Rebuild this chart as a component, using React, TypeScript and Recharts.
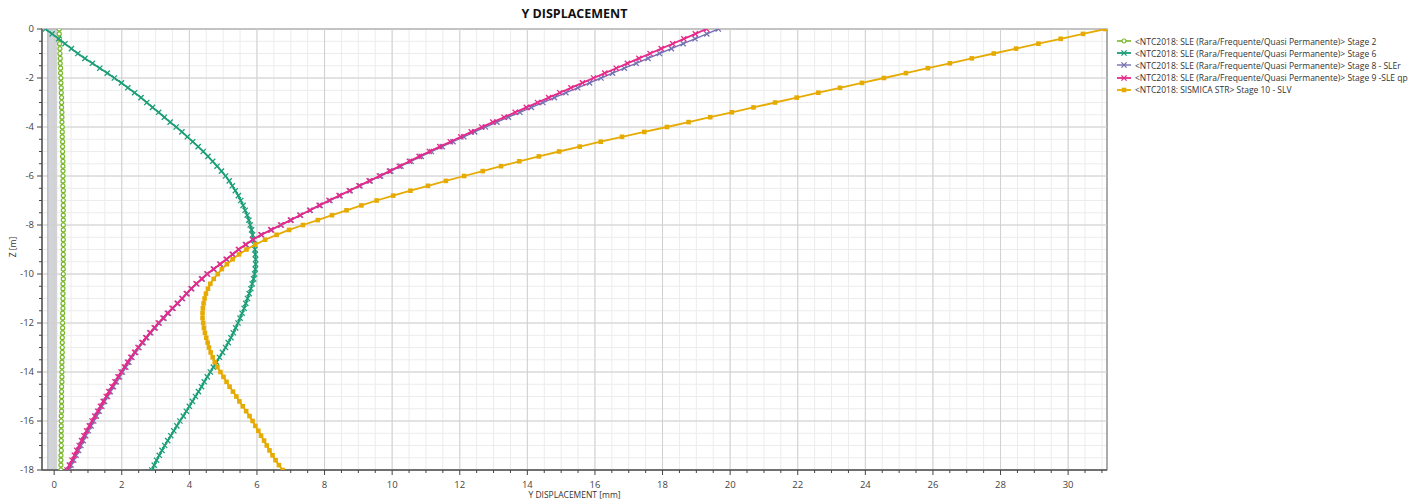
import React from 'react';
import {
  ScatterChart, Scatter, XAxis, YAxis, CartesianGrid, ReferenceLine, ReferenceArea,
} from 'recharts';

// depth of each computed node along the wall [m]
const depth = [
  0, -0.2, -0.4, -0.6, -0.8, -1, -1.2, -1.4, -1.6, -1.8,
  -2, -2.2, -2.4, -2.6, -2.8, -3, -3.2, -3.4, -3.6, -3.8,
  -4, -4.2, -4.4, -4.6, -4.8, -5, -5.2, -5.4, -5.6, -5.8,
  -6, -6.2, -6.4, -6.6, -6.8, -7, -7.2, -7.4, -7.6, -7.8,
  -8, -8.2, -8.4, -8.6, -8.8, -9, -9.2, -9.4, -9.6, -9.8,
  -10, -10.2, -10.4, -10.6, -10.8, -11, -11.2, -11.4, -11.6, -11.8,
  -12, -12.2, -12.4, -12.6, -12.8, -13, -13.2, -13.4, -13.6, -13.8,
  -14, -14.2, -14.4, -14.6, -14.8, -15, -15.2, -15.4, -15.6, -15.8,
  -16, -16.2, -16.4, -16.6, -16.8, -17, -17.2, -17.4, -17.6, -17.8,
  -18,
];

// horizontal displacement per stage [mm]
const stage2 = [
  0.15, 0.15, 0.16, 0.16, 0.17, 0.17, 0.18, 0.18, 0.19, 0.19,
  0.20, 0.20, 0.21, 0.21, 0.22, 0.22, 0.22, 0.23, 0.23, 0.23,
  0.24, 0.24, 0.24, 0.25, 0.25, 0.25, 0.25, 0.26, 0.26, 0.26,
  0.26, 0.26, 0.26, 0.27, 0.27, 0.27, 0.27, 0.27, 0.27, 0.27,
  0.27, 0.27, 0.27, 0.27, 0.27, 0.27, 0.27, 0.27, 0.27, 0.27,
  0.27, 0.27, 0.26, 0.26, 0.26, 0.26, 0.26, 0.26, 0.25, 0.25,
  0.25, 0.25, 0.25, 0.24, 0.24, 0.24, 0.24, 0.24, 0.23, 0.23,
  0.23, 0.23, 0.23, 0.22, 0.22, 0.22, 0.22, 0.22, 0.22, 0.21,
  0.21, 0.21, 0.21, 0.21, 0.21, 0.21, 0.21, 0.20, 0.20, 0.20,
  0.20,
];

const stage6 = [
  -0.26, -0.06, 0.13, 0.32, 0.51, 0.70, 0.91, 1.13, 1.35, 1.57,
  1.78, 1.99, 2.18, 2.38, 2.57, 2.74, 2.91, 3.09, 3.26, 3.43,
  3.61, 3.78, 3.94, 4.10, 4.26, 4.41, 4.55, 4.69, 4.82, 4.95,
  5.07, 5.18, 5.27, 5.36, 5.45, 5.52, 5.59, 5.65, 5.71, 5.76,
  5.80, 5.84, 5.87, 5.90, 5.92, 5.94, 5.95, 5.96, 5.96, 5.95,
  5.93, 5.90, 5.86, 5.82, 5.77, 5.72, 5.67, 5.62, 5.56, 5.50,
  5.44, 5.37, 5.30, 5.23, 5.15, 5.07, 4.98, 4.89, 4.80, 4.71,
  4.62, 4.53, 4.44, 4.36, 4.27, 4.18, 4.09, 4.00, 3.91, 3.82,
  3.72, 3.63, 3.54, 3.45, 3.36, 3.27, 3.19, 3.11, 3.03, 2.96,
  2.89,
];

const stage8 = [
  19.65, 19.31, 18.96, 18.61, 18.26, 17.91, 17.57, 17.22, 16.87, 16.52,
  16.18, 15.84, 15.49, 15.14, 14.80, 14.46, 14.12, 13.78, 13.44, 13.10,
  12.76, 12.44, 12.12, 11.80, 11.48, 11.16, 10.86, 10.56, 10.26, 9.96,
  9.66, 9.35, 9.05, 8.76, 8.46, 8.16, 7.87, 7.58, 7.29, 7.01,
  6.72, 6.43, 6.14, 5.89, 5.68, 5.47, 5.29, 5.11, 4.92, 4.73,
  4.54, 4.38, 4.22, 4.07, 3.93, 3.80, 3.66, 3.52, 3.38, 3.25,
  3.11, 2.99, 2.86, 2.74, 2.63, 2.51, 2.41, 2.30, 2.21, 2.12,
  2.02, 1.93, 1.84, 1.75, 1.66, 1.58, 1.49, 1.41, 1.33, 1.25,
  1.17, 1.09, 1.01, 0.93, 0.86, 0.79, 0.72, 0.65, 0.58, 0.50,
  0.43,
];

const stage9 = [
  19.30, 18.97, 18.63, 18.30, 17.96, 17.63, 17.30, 16.96, 16.63, 16.29,
  15.96, 15.63, 15.29, 14.96, 14.63, 14.30, 13.97, 13.64, 13.31, 12.98,
  12.65, 12.34, 12.03, 11.72, 11.41, 11.10, 10.80, 10.51, 10.21, 9.92,
  9.62, 9.32, 9.02, 8.73, 8.43, 8.13, 7.84, 7.56, 7.27, 6.99,
  6.70, 6.41, 6.12, 5.87, 5.66, 5.45, 5.27, 5.09, 4.90, 4.71,
  4.52, 4.36, 4.20, 4.05, 3.91, 3.78, 3.64, 3.49, 3.35, 3.22,
  3.08, 2.96, 2.83, 2.71, 2.60, 2.48, 2.38, 2.27, 2.17, 2.08,
  1.98, 1.89, 1.80, 1.71, 1.62, 1.54, 1.45, 1.37, 1.29, 1.20,
  1.12, 1.04, 0.96, 0.88, 0.81, 0.74, 0.67, 0.60, 0.53, 0.45,
  0.38,
];

const stage10 = [
  31.10, 30.44, 29.78, 29.12, 28.46, 27.80, 27.15, 26.50, 25.85, 25.20,
  24.55, 23.90, 23.25, 22.61, 21.97, 21.33, 20.69, 20.05, 19.41, 18.77,
  18.13, 17.46, 16.80, 16.17, 15.55, 14.94, 14.34, 13.76, 13.22, 12.68,
  12.13, 11.59, 11.06, 10.54, 10.03, 9.54, 9.09, 8.65, 8.22, 7.80,
  7.36, 6.95, 6.58, 6.24, 5.95, 5.69, 5.47, 5.28, 5.11, 4.96,
  4.84, 4.72, 4.62, 4.55, 4.49, 4.45, 4.42, 4.40, 4.39, 4.39,
  4.41, 4.43, 4.46, 4.50, 4.54, 4.58, 4.63, 4.69, 4.75, 4.83,
  4.92, 5.01, 5.10, 5.19, 5.29, 5.39, 5.48, 5.58, 5.68, 5.78,
  5.87, 5.95, 6.04, 6.12, 6.21, 6.29, 6.37, 6.46, 6.55, 6.65,
  6.76,
];

const seriesNames = [
  '<NTC2018: SLE (Rara/Frequente/Quasi Permanente)> Stage 2',
  '<NTC2018: SLE (Rara/Frequente/Quasi Permanente)> Stage 6',
  '<NTC2018: SLE (Rara/Frequente/Quasi Permanente)> Stage 8 - SLEr',
  '<NTC2018: SLE (Rara/Frequente/Quasi Permanente)> Stage 9 -SLE qp',
  '<NTC2018: SISMICA STR> Stage 10 - SLV',
];

// wall section drawn behind the profiles [mm]
const wallBand = [-0.19, 0.09];

const xMajorTicks = [0, 2, 4, 6, 8, 10, 12, 14, 16, 18, 20, 22, 24, 26, 28, 30];
const zMajorTicks = [0, -2, -4, -6, -8, -10, -12, -14, -16, -18];

const X_MIN = -0.36;
const X_MAX = 31.15;
const Z_MIN = -18;
const Z_MAX = 0;

const xTicks = xMajorTicks.flatMap((v) => [v, v + 0.5, v + 1, v + 1.5]).filter((v) => v <= X_MAX);
const zTicks = zMajorTicks.flatMap((v) => [v, v - 0.5, v - 1, v - 1.5]).filter((v) => v >= Z_MIN);
const isMajor = (v: number) => Math.abs(v % 2) < 1e-6;

const toPoints = (values: number[]) => values.map((x, i) => ({ x, z: depth[i] }));

type MarkerKind = 'circle' | 'cross' | 'square';

const series: { name: string; values: number[]; color: string; marker: MarkerKind; width: number }[] = [
  { name: seriesNames[0], values: stage2, color: '#78b829', marker: 'circle', width: 1.6 },
  { name: seriesNames[1], values: stage6, color: '#1b9e77', marker: 'cross', width: 1.8 },
  { name: seriesNames[2], values: stage8, color: '#7570b3', marker: 'cross', width: 1.4 },
  { name: seriesNames[3], values: stage9, color: '#e7298a', marker: 'cross', width: 1.8 },
  { name: seriesNames[4], values: stage10, color: '#e6ab02', marker: 'square', width: 1.8 },
];

const FONT = '"Open Sans", "Noto Sans", sans-serif';

function Marker({ kind, color, cx, cy }: { kind: MarkerKind; color: string; cx: number; cy: number }) {
  if (kind === 'circle') {
    return <circle cx={cx} cy={cy} r={2} fill="#fff" stroke={color} strokeWidth={1.2} />;
  }
  if (kind === 'square') {
    return <rect x={cx - 2.3} y={cy - 2.3} width={4.6} height={4.6} fill={color} />;
  }
  const s = 2.6;
  return (
    <path
      d={`M${cx - s},${cy - s}L${cx + s},${cy + s}M${cx - s},${cy + s}L${cx + s},${cy - s}`}
      stroke={color}
      strokeWidth={1.3}
      fill="none"
    />
  );
}

const XTick = (props: any) => {
  const { x, y, payload } = props;
  const v = payload.value;
  const major = isMajor(v);
  return (
    <g>
      <line x1={x} y1={y} x2={x} y2={y + (major ? 5 : 3)} stroke="#444" />
      {major && (
        <text x={x} y={y + 17.5} textAnchor="middle" fontSize={9.5} fill="#444" fontFamily={FONT}>
          {v}
        </text>
      )}
    </g>
  );
};

const YTick = (props: any) => {
  const { x, y, payload } = props;
  const v = payload.value;
  const major = isMajor(v);
  return (
    <g>
      <line x1={x - (major ? 5 : 3)} y1={y} x2={x} y2={y} stroke="#444" />
      {major && (
        <text x={x - 8} y={y + 3.4} textAnchor="end" fontSize={9.5} fill="#444" fontFamily={FONT}>
          {v}
        </text>
      )}
    </g>
  );
};

function Legend() {
  return (
    <div style={{ position: 'absolute', left: 1116, top: 35, fontFamily: FONT, fontSize: 8.5, color: '#333' }}>
      {series.map((s) => (
        <div key={s.name} style={{ display: 'flex', alignItems: 'center', height: 12.2, whiteSpace: 'nowrap' }}>
          <svg width={16} height={10}>
            <line x1={1} y1={5} x2={15} y2={5} stroke={s.color} strokeWidth={s.width} />
            <Marker kind={s.marker} color={s.color} cx={8} cy={5} />
          </svg>
          <span style={{ marginLeft: 3 }}>{s.name}</span>
        </div>
      ))}
    </div>
  );
}

export default function App() {
  return (
    <div style={{ position: 'absolute', left: 0, top: 0, width: 1426, height: 504, background: '#fff', fontFamily: FONT }}>
      <div
        style={{
          position: 'absolute', left: 374, top: 5, width: 401, textAlign: 'center',
          fontSize: 12.5, fontWeight: 700, color: '#111',
        }}
      >
        Y DISPLACEMENT
      </div>

      <div style={{ position: 'absolute', left: 0, top: 0 }}>
        <ScatterChart width={1110} height={504} margin={{ top: 29, right: 3, bottom: 0, left: 0 }}>
          <CartesianGrid stroke="#ececec" strokeWidth={1} />
          {xMajorTicks.map((v) => (
            <ReferenceLine key={`gx${v}`} x={v} stroke="#d0d0d0" strokeWidth={1} />
          ))}
          {zMajorTicks.map((v) => (
            <ReferenceLine key={`gz${v}`} y={v} stroke="#d0d0d0" strokeWidth={1} />
          ))}
          <ReferenceArea
            x1={wallBand[0]} x2={wallBand[1]} y1={Z_MIN} y2={Z_MAX}
            fill="#d3d4d8" fillOpacity={1} stroke="none"
          />
          <ReferenceLine x={wallBand[0]} stroke="#9aa2bd" strokeWidth={0.8} />
          <XAxis
            type="number"
            dataKey="x"
            domain={[X_MIN, X_MAX]}
            allowDataOverflow
            ticks={xTicks}
            interval={0}
            tickSize={0}
            tickMargin={0}
            tick={<XTick />}
            axisLine={{ stroke: '#555', strokeWidth: 1.3 }}
            height={34}
          />
          <YAxis
            type="number"
            dataKey="z"
            domain={[Z_MIN, Z_MAX]}
            allowDataOverflow
            ticks={zTicks}
            interval={0}
            tickSize={0}
            tickMargin={0}
            tick={<YTick />}
            axisLine={{ stroke: '#555', strokeWidth: 1.3 }}
            width={42}
          />
          {series.map((s) => (
            <Scatter
              key={s.name}
              name={s.name}
              data={toPoints(s.values)}
              line={{ stroke: s.color, strokeWidth: s.width }}
              lineType="joint"
              shape={(p: any) => <Marker kind={s.marker} color={s.color} cx={p.cx} cy={p.cy} />}
              isAnimationActive={false}
            />
          ))}
          <ReferenceArea
            x1={X_MIN} x2={X_MAX} y1={Z_MIN} y2={Z_MAX}
            fill="none" stroke="#7a7a7a" strokeWidth={1.2}
          />
        </ScatterChart>
      </div>

      <div
        style={{
          position: 'absolute', left: 12, top: 247, transform: 'translate(-50%, -50%) rotate(-90deg)',
          fontSize: 8.5, color: '#333', whiteSpace: 'nowrap',
        }}
      >
        Z [m]
      </div>
      <div
        style={{
          position: 'absolute', left: 374, top: 489, width: 401, textAlign: 'center',
          fontSize: 8.5, color: '#333',
        }}
      >
        Y DISPLACEMENT [mm]
      </div>

      <Legend />
    </div>
  );
}
